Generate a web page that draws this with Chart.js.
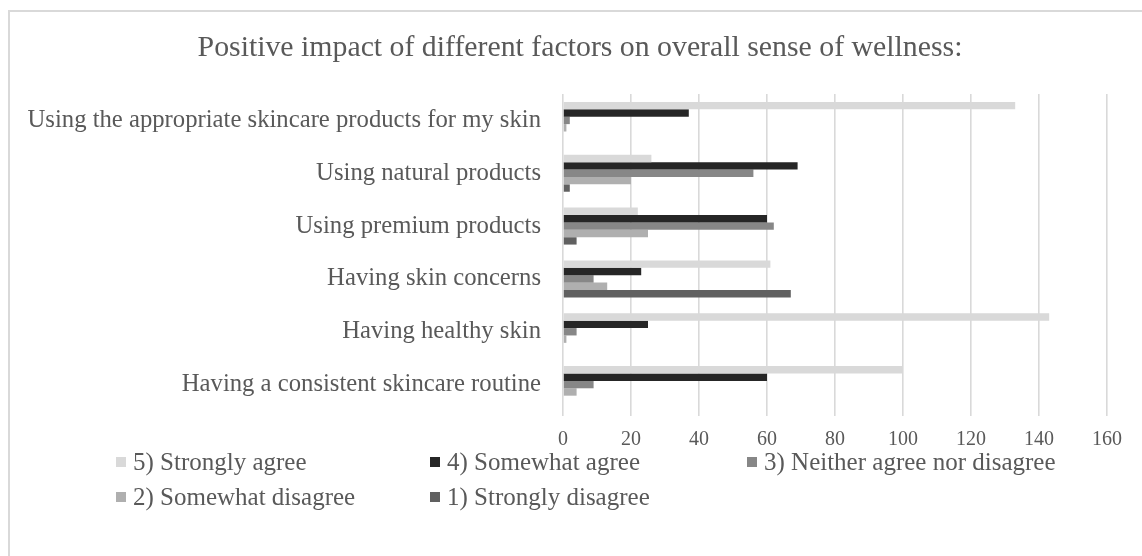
<!DOCTYPE html>
<html>
<head>
<meta charset="utf-8">
<title>Positive impact of different factors on overall sense of wellness</title>
<script src="https://cdn.jsdelivr.net/npm/chart.js@4.4.1/dist/chart.umd.min.js"></script>
<style>
  html, body { margin: 0; padding: 0; background: #ffffff; }
  #wrap { position: relative; width: 1142px; height: 556px; overflow: hidden; }
  #frame {
    position: absolute; left: 8px; top: 10px; width: 1300px; height: 700px;
    border-left: 2px solid #d9d9d9; border-top: 2px solid #d9d9d9; box-sizing: border-box;
  }
  #chart { position: absolute; left: 0; top: 0; }
</style>
</head>
<body>
<div id="wrap">
  <div id="frame"></div>
  <canvas id="chart" width="1142" height="556"></canvas>
</div>
<script>
// Survey factors, listed top to bottom
const categories = [
  'Using the appropriate skincare products for my skin',
  'Using natural products',
  'Using premium products',
  'Having skin concerns',
  'Having healthy skin',
  'Having a consistent skincare routine'
];

// Response counts per agreement level
const stronglyAgree    = [133, 26, 22, 61, 143, 100];
const somewhatAgree    = [37, 69, 60, 23, 25, 60];
const neitherAgree     = [2, 56, 62, 9, 4, 9];
const somewhatDisagree = [1, 20, 25, 13, 1, 4];
const stronglyDisagree = [0, 2, 4, 67, 0, 0];

const seriesNames = [
  '5) Strongly agree',
  '4) Somewhat agree',
  '3) Neither agree nor disagree',
  '2) Somewhat disagree',
  '1) Strongly disagree'
];
const seriesColors = ['#d9d9d9', '#262626', '#878787', '#afafaf', '#606060'];
const xTicks = [0, 20, 40, 60, 80, 100, 120, 140, 160];
const chartTitle = 'Positive impact of different factors on overall sense of wellness:';

const FONT = "'Liberation Serif', 'Times New Roman', serif";
const TEXT = '#595959';

// Heading drawn centred over the whole figure
const heading = {
  id: 'heading',
  afterDraw(chart, args, opts) {
    const ctx = chart.ctx;
    ctx.save();
    ctx.font = opts.size + 'px ' + FONT;
    ctx.fillStyle = TEXT;
    ctx.textAlign = 'center';
    ctx.textBaseline = 'middle';
    ctx.fillText(opts.text, opts.x, opts.y);
    ctx.restore();
  }
};

// Legend laid out on a fixed three-column grid below the axis
const gridLegend = {
  id: 'gridLegend',
  afterDraw(chart, args, opts) {
    const ctx = chart.ctx;
    ctx.save();
    ctx.font = opts.size + 'px ' + FONT;
    ctx.textBaseline = 'middle';
    ctx.textAlign = 'left';
    chart.data.datasets.forEach((ds, i) => {
      const col = i % 3;
      const row = Math.floor(i / 3);
      const x = opts.columns[col];
      const y = opts.rows[row];
      ctx.fillStyle = ds.backgroundColor;
      ctx.fillRect(x, y - opts.box / 2, opts.box, opts.box);
      ctx.fillStyle = TEXT;
      ctx.fillText(ds.label, x + opts.box + opts.gap, y + 1);
    });
    ctx.restore();
  }
};

const seriesValues = [stronglyAgree, somewhatAgree, neitherAgree, somewhatDisagree, stronglyDisagree];

new Chart(document.getElementById('chart'), {
  type: 'bar',
  data: {
    labels: categories,
    datasets: seriesNames.map((name, i) => ({
      label: name,
      data: seriesValues[i],
      backgroundColor: seriesColors[i],
      borderWidth: 0,
      categoryPercentage: 0.7,
      barPercentage: 1.0
    }))
  },
  options: {
    indexAxis: 'y',
    responsive: false,
    animation: false,
    devicePixelRatio: 1,
    layout: { padding: { left: 0, right: 35, top: 94, bottom: 106 } },
    plugins: {
      legend: { display: false },
      tooltip: { enabled: false },
      title: { display: false },
      heading: { text: chartTitle, size: 29.8, x: 580, y: 48 },
      gridLegend: {
        size: 25,
        box: 10,
        gap: 7,
        columns: [116, 430, 747],
        rows: [462, 497]
      }
    },
    scales: {
      x: {
        min: 0,
        max: 160,
        afterBuildTicks: (scale) => { scale.ticks = xTicks.map(v => ({ value: v })); },
        afterFit: (scale) => { scale.height = 39; },
        grid: { color: '#d9d9d9', lineWidth: 1.6, drawTicks: true, tickLength: 5, tickColor: '#d9d9d9' },
        border: { display: false },
        ticks: { color: TEXT, padding: 12, font: { family: FONT, size: 20 } }
      },
      y: {
        afterFit: (scale) => { scale.width = 563; },
        grid: { display: false, drawTicks: false },
        border: { display: false },
        ticks: { color: TEXT, padding: 22, font: { family: FONT, size: 24.7 } }
      }
    }
  },
  plugins: [heading, gridLegend]
});
</script>
</body>
</html>
